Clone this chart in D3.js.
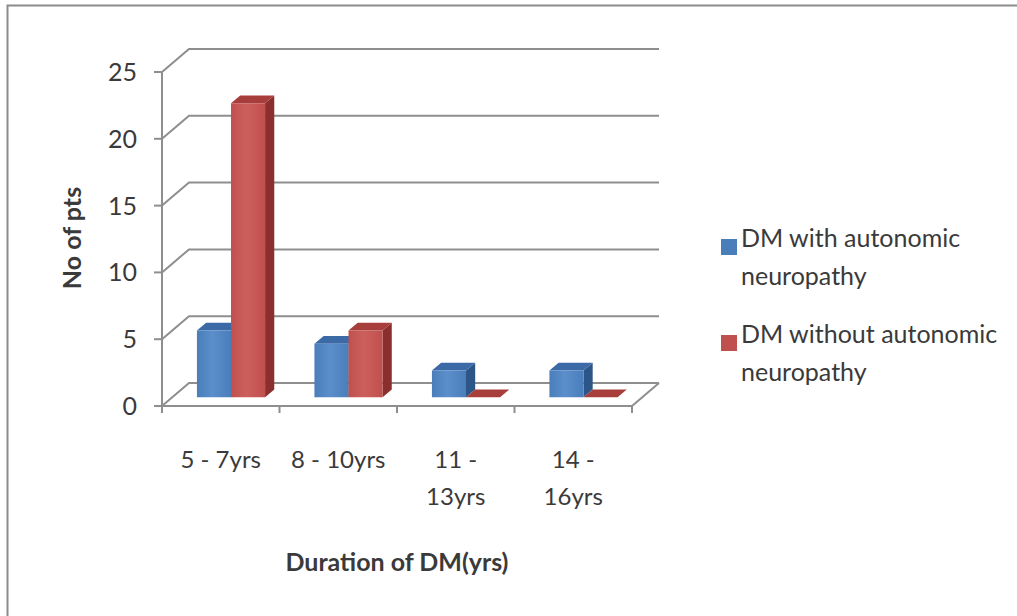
<!DOCTYPE html>
<html>
<head>
<meta charset="utf-8">
<script src="https://cdn.jsdelivr.net/npm/d3@7"></script>
<style>
  html, body { margin: 0; padding: 0; background: #fff; }
  svg { display: block; }
  text { font-family: Lato, "Open Sans", "Liberation Sans", sans-serif; fill: #3a3a3a; }
</style>
</head>
<body>
<svg id="chart" width="1017" height="616"></svg>
<script>
// Number of patients by duration of diabetes
const categories = [["5 - 7yrs"], ["8 - 10yrs"], ["11 -", "13yrs"], ["14 -", "16yrs"]];
const categoryKeys = ["5-7", "8-10", "11-13", "14-16"];
const seriesNames = ["DM with autonomic neuropathy", "DM without autonomic neuropathy"];
const legendLines = [["DM with autonomic", "neuropathy"], ["DM without autonomic", "neuropathy"]];
const withNeuropathy = [5, 4, 2, 2];
const withoutNeuropathy = [22, 5, 0, 0];
const yTicks = [0, 5, 10, 15, 20, 25];

const values = [withNeuropathy, withoutNeuropathy];
const palette = [
  { front: "#4a7ebb", light: "#5b8fcc", side: "#2d5688", top: "#3b6aa6" },
  { front: "#c0504d", light: "#cc5f5c", side: "#8a2f2d", top: "#a83e3b" }
];

const svg = d3.select("#chart");
const defs = svg.append("defs");
palette.forEach((c, i) => {
  const g = defs.append("linearGradient").attr("id", "face" + i)
    .attr("x1", 0).attr("x2", 1).attr("y1", 0).attr("y2", 0);
  g.append("stop").attr("offset", "0%").attr("stop-color", c.front);
  g.append("stop").attr("offset", "45%").attr("stop-color", c.light);
  g.append("stop").attr("offset", "100%").attr("stop-color", c.front);
});

// outer chart frame
svg.append("rect")
  .attr("x", 7.5).attr("y", 5.5).attr("width", 1030).attr("height", 640)
  .attr("fill", "#fff").attr("stroke", "#8c8c8c").attr("stroke-width", 2);

// front plane of the 3-D plot and depth projection
const x0 = d3.scaleBand().domain(categoryKeys).range([162, 632]);
const x1 = d3.scaleBand().domain(seriesNames)
  .range([x0.bandwidth() * 0.21, x0.bandwidth() * 0.79]);
const y = d3.scaleLinear().domain([0, 25]).range([406, 72]);
const DX = 27, DY = -23;              // offset of the back wall
const Z0 = 0.38, Z1 = 0.72;           // depth span occupied by the bars
const proj = (px, v, z) => [px + z * DX, y(v) + z * DY];

const grid = svg.append("g").attr("fill", "none").attr("stroke", "#8e8e8e").attr("stroke-width", 2);

// back-wall gridlines with their diagonal returns to the value axis
yTicks.forEach(v => {
  const a = proj(x0.range()[0], v, 0), b = proj(x0.range()[0], v, 1), c = proj(x0.range()[1], v, 1);
  grid.append("polyline").attr("points", [a, b, c].map(p => p.join(",")).join(" "));
});

// floor: right edge
{
  const a = proj(x0.range()[1], 0, 0), b = proj(x0.range()[1], 0, 1);
  grid.append("line").attr("x1", a[0]).attr("y1", a[1]).attr("x2", b[0]).attr("y2", b[1]);
}

// bars: side, top and front faces
const bars = svg.append("g");
categoryKeys.forEach((k, ci) => {
  seriesNames.forEach((s, si) => {
    const v = values[si][ci];
    const xl = x0(k) + x1(s), xr = xl + x1.bandwidth();
    const col = palette[si];
    const poly = (pts, fill) => bars.append("polygon")
      .attr("points", pts.map(p => p.join(",")).join(" ")).attr("fill", fill);
    poly([proj(xr, 0, Z0), proj(xr, 0, Z1), proj(xr, v, Z1), proj(xr, v, Z0)], col.side);
    poly([proj(xl, v, Z0), proj(xr, v, Z0), proj(xr, v, Z1), proj(xl, v, Z1)], col.top);
    if (v > 0) poly([proj(xl, 0, Z0), proj(xr, 0, Z0), proj(xr, v, Z0), proj(xl, v, Z0)], `url(#face${si})`);
  });
});

// value axis (front) with ticks and labels
const axisG = svg.append("g").attr("stroke", "#8e8e8e").attr("stroke-width", 2);
axisG.append("line").attr("x1", 162).attr("x2", 162).attr("y1", y(0)).attr("y2", y(25));
yTicks.forEach(v => {
  axisG.append("line").attr("x1", 154).attr("x2", 162).attr("y1", y(v)).attr("y2", y(v));
});
svg.append("g").selectAll("text").data(yTicks).join("text")
  .attr("x", 137).attr("y", d => y(d)).attr("dy", "0.36em")
  .attr("text-anchor", "end").attr("font-size", 25).text(d => d);

// category axis (front floor edge) with ticks between groups
axisG.append("line").attr("x1", x0.range()[0]).attr("x2", x0.range()[1]).attr("y1", y(0)).attr("y2", y(0));
categoryKeys.concat(["end"]).forEach((k, i) => {
  const px = x0.range()[0] + i * x0.bandwidth();
  axisG.append("line").attr("x1", px).attr("x2", px).attr("y1", y(0)).attr("y2", y(0) + 7);
});
categoryKeys.forEach((k, i) => {
  const t = svg.append("text").attr("text-anchor", "middle").attr("font-size", 24)
    .attr("x", x0(k) + x0.bandwidth() / 2).attr("y", 468);
  categories[i].forEach((line, li) => {
    t.append("tspan").attr("x", x0(k) + x0.bandwidth() / 2).attr("dy", li ? 37 : 0).text(line);
  });
});

// axis titles
svg.append("text").attr("x", 397).attr("y", 571).attr("text-anchor", "middle")
  .attr("font-size", 25).attr("font-weight", "bold").attr("fill", "#222")
  .text("Duration of DM(yrs)");
svg.append("text").attr("transform", "translate(81,238) rotate(-90)").attr("text-anchor", "middle")
  .attr("font-size", 25).attr("font-weight", "bold").attr("fill", "#222")
  .text("No of pts");

// legend
const legendY = [247, 343];
seriesNames.forEach((s, i) => {
  svg.append("rect").attr("x", 721).attr("y", legendY[i] - 8).attr("width", 16).attr("height", 16)
    .attr("fill", palette[i].front);
  const t = svg.append("text").attr("font-size", 25).attr("x", 741).attr("y", legendY[i]).attr("dy", "0.36em");
  legendLines[i].forEach((line, li) => {
    t.append("tspan").attr("x", 741).attr("dy", li ? 38 : 0).text(line);
  });
});
</script>
</body>
</html>
